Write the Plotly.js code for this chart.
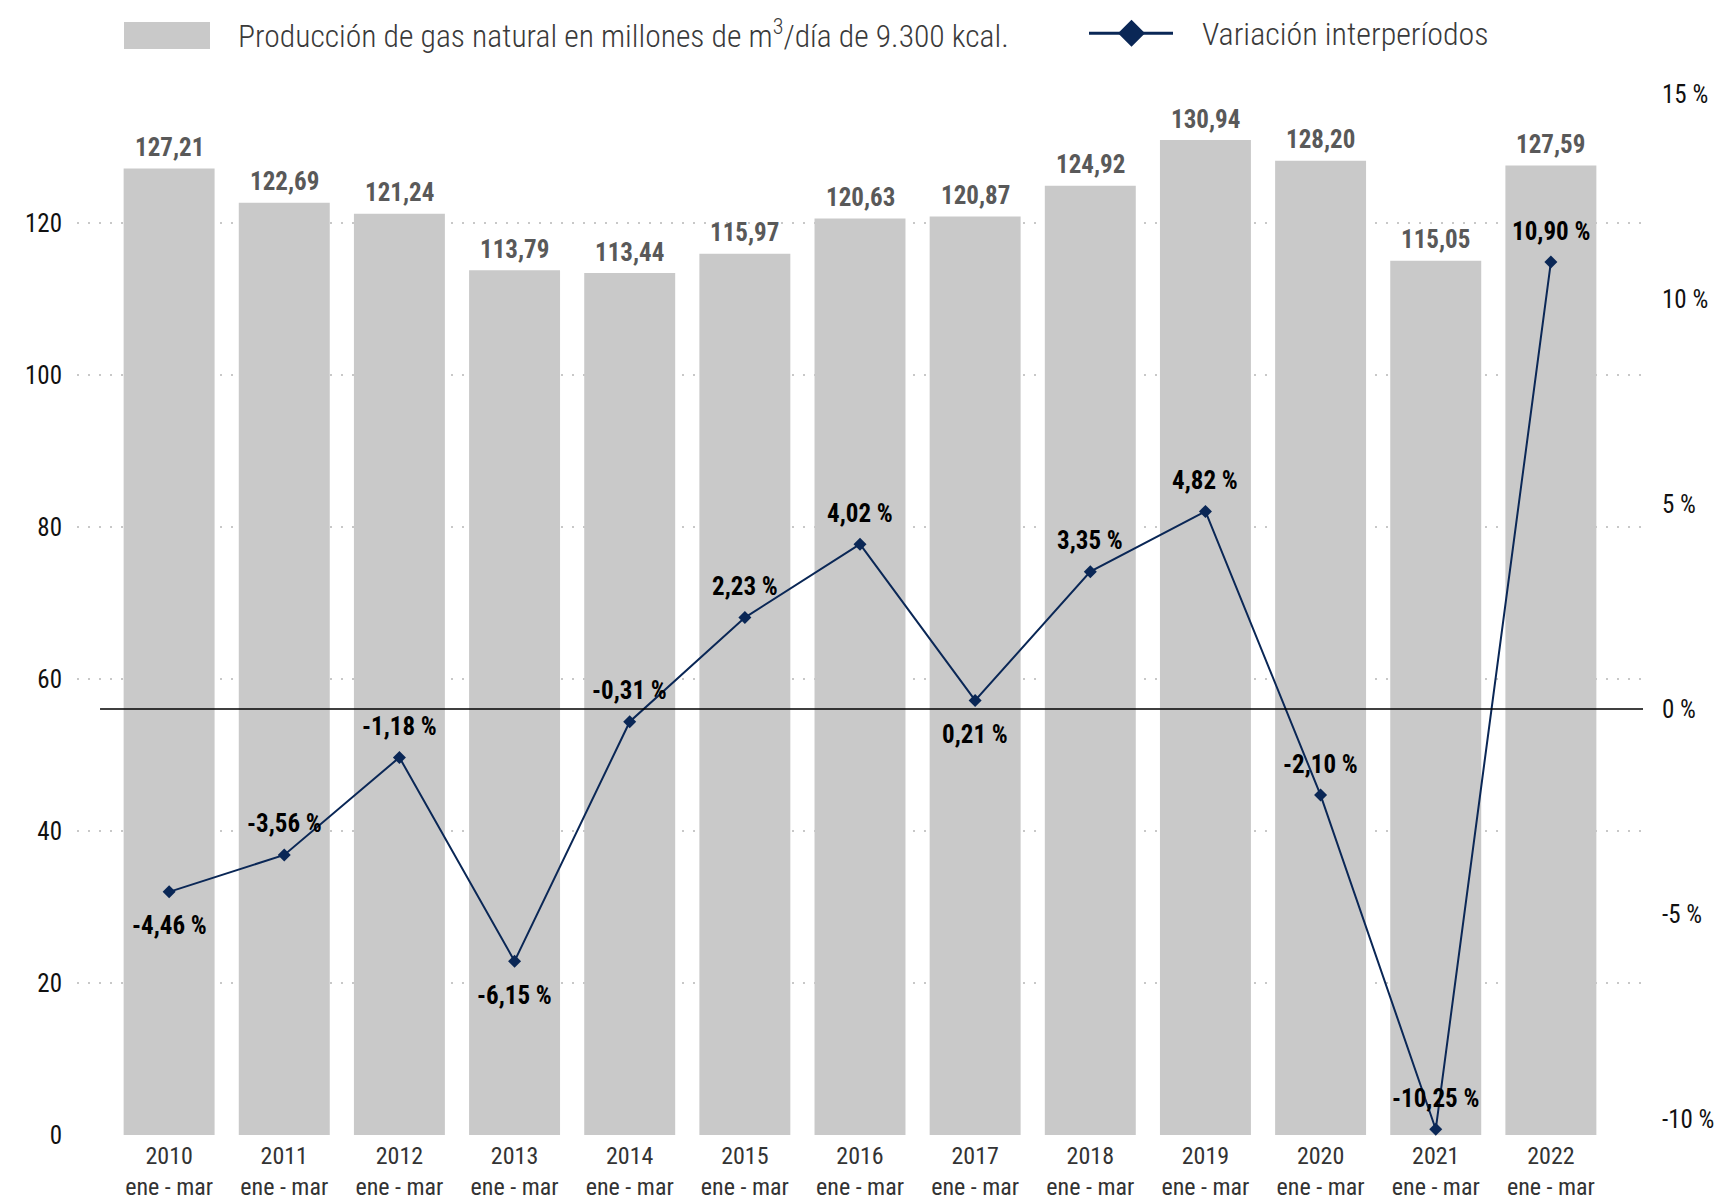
<!DOCTYPE html>
<html>
<head>
<meta charset="utf-8">
<script src="https://cdn.plot.ly/plotly-3.0.1.min.js"></script>
<style>html,body{margin:0;padding:0;background:#fff;}</style>
</head>
<body>
<div id="chart" style="width:1718px;height:1196px;"></div>
<script>
// ---- data ----
const categories = ['2010','2011','2012','2013','2014','2015','2016','2017','2018','2019','2020','2021','2022'];
const periodLabel = 'ene - mar';
const production = [127.21,122.69,121.24,113.79,113.44,115.97,120.63,120.87,124.92,130.94,128.20,115.05,127.59];
const variation = [-4.46,-3.56,-1.18,-6.15,-0.31,2.23,4.02,0.21,3.35,4.82,-2.10,-10.25,10.90];
const leftTicks = [0,20,40,60,80,100,120];
const rightTicks = [-10,-5,0,5,10,15];
const rightTickText = ['-10 %','-5 %','0 %','5 %','10 %','15 %'];
const seriesNames = ['Producción de gas natural en millones de m<sup>3</sup>/día de 9.300 kcal.', 'Variación interperíodos'];
// label placement for the percentage labels (layout choice)
const pctLabelSide = ['below','above','above','below','above','above','above','below','above','above','above','above','above'];

// ---- layout constants ----
const W = 1718, H = 1196;
const M = {l:77, r:75, t:94, b:61};
const plotW = W - M.l - M.r, plotH = H - M.t - M.b;
const px = x => (x - M.l) / plotW;
const py = y => (H - M.b - y) / plotH;
const FONT = 'Roboto Condensed, Liberation Sans Narrow, DejaVu Sans Condensed, Roboto, sans-serif';
const NAVY = '#0a2756';
const BAR = '#c9c9c9';

const fmt = v => v.toFixed(2).replace('.', ',');
const xLabels = categories.map(c => c + '<br>' + periodLabel);

const traces = [
  {
    type: 'bar', x: xLabels, y: production, name: seriesNames[0],
    marker: {color: BAR}, yaxis: 'y', showlegend: false, hoverinfo: 'skip'
  },
  {
    type: 'scatter', mode: 'lines+markers', x: xLabels, y: variation, name: seriesNames[1],
    yaxis: 'y2', line: {color: NAVY, width: 2},
    marker: {symbol: 'diamond', size: 10, color: NAVY},
    cliponaxis: false, showlegend: false, hoverinfo: 'skip'
  }
];

const annotations = [];
production.forEach((v, i) => {
  annotations.push({
    x: xLabels[i], y: v, xref: 'x', yref: 'y', text: fmt(v), showarrow: false,
    yanchor: 'middle', yshift: 21,
    font: {family: FONT, size: 25, color: '#595959', weight: 700}
  });
});
variation.forEach((v, i) => {
  const above = pctLabelSide[i] === 'above';
  annotations.push({
    x: xLabels[i], y: v, xref: 'x', yref: 'y2', text: fmt(v) + ' %', showarrow: false,
    yanchor: 'middle', yshift: above ? 31 : -34,
    font: {family: FONT, size: 25, color: '#000000', weight: 700}
  });
});
// legend texts
annotations.push({
  xref: 'paper', yref: 'paper', x: px(236), y: py(34), xanchor: 'left', yanchor: 'middle',
  text: seriesNames[0], showarrow: false,
  font: {family: FONT, size: 31.6, color: '#3a3a3a', weight: 300}
});
annotations.push({
  xref: 'paper', yref: 'paper', x: px(1200), y: py(34), xanchor: 'left', yanchor: 'middle',
  text: seriesNames[1], showarrow: false,
  font: {family: FONT, size: 32, color: '#3a3a3a', weight: 300}
});

const dcx = 1131.5, dcy = 33.3, dh = 13.5;
const shapes = [
  // zero line of the percentage axis
  {type: 'line', xref: 'x', yref: 'y2', x0: -0.6, x1: 12.8, y0: 0, y1: 0,
   line: {color: '#000000', width: 1.5}, layer: 'above'},
  // legend: bar swatch
  {type: 'rect', xref: 'paper', yref: 'paper', x0: px(124), x1: px(210), y0: py(49), y1: py(22),
   fillcolor: BAR, line: {width: 0}},
  // legend: line sample
  {type: 'line', xref: 'paper', yref: 'paper', x0: px(1089), x1: px(1173), y0: py(dcy), y1: py(dcy),
   line: {color: NAVY, width: 3}},
  {type: 'path', xref: 'paper', yref: 'paper',
   path: `M ${px(dcx - dh)} ${py(dcy)} L ${px(dcx)} ${py(dcy - dh)} L ${px(dcx + dh)} ${py(dcy)} L ${px(dcx)} ${py(dcy + dh)} Z`,
   fillcolor: NAVY, line: {width: 0}}
];

const layout = {
  width: W, height: H,
  margin: M,
  paper_bgcolor: '#ffffff', plot_bgcolor: '#ffffff',
  font: {family: FONT, color: '#222222'},
  bargap: 0.21,
  showlegend: false,
  hovermode: false,
  xaxis: {
    type: 'category', range: [-0.8, 12.8], showgrid: false, showline: false, zeroline: false,
    ticks: '', tickfont: {family: FONT, size: 24, color: '#333333'}, ticklabelstandoff: 4,
    fixedrange: true
  },
  yaxis: {
    range: [0, 137], tickvals: leftTicks, ticktext: leftTicks.map(String),
    showgrid: true, gridcolor: '#c8c8c8', gridwidth: 2, griddash: '2px,9px',
    zeroline: false, showline: false, ticks: '',
    tickfont: {family: FONT, size: 25, color: '#111111'}, ticklabelstandoff: 14,
    fixedrange: true
  },
  yaxis2: {
    overlaying: 'y', side: 'right', range: [-10.39, 15],
    tickvals: rightTicks, ticktext: rightTickText,
    showgrid: false, zeroline: false, showline: false, ticks: '',
    tickfont: {family: FONT, size: 25, color: '#111111'}, ticklabelstandoff: 18,
    fixedrange: true
  },
  annotations: annotations,
  shapes: shapes
};

Plotly.newPlot('chart', traces, layout, {displayModeBar: false, staticPlot: true});
</script>
</body>
</html>
